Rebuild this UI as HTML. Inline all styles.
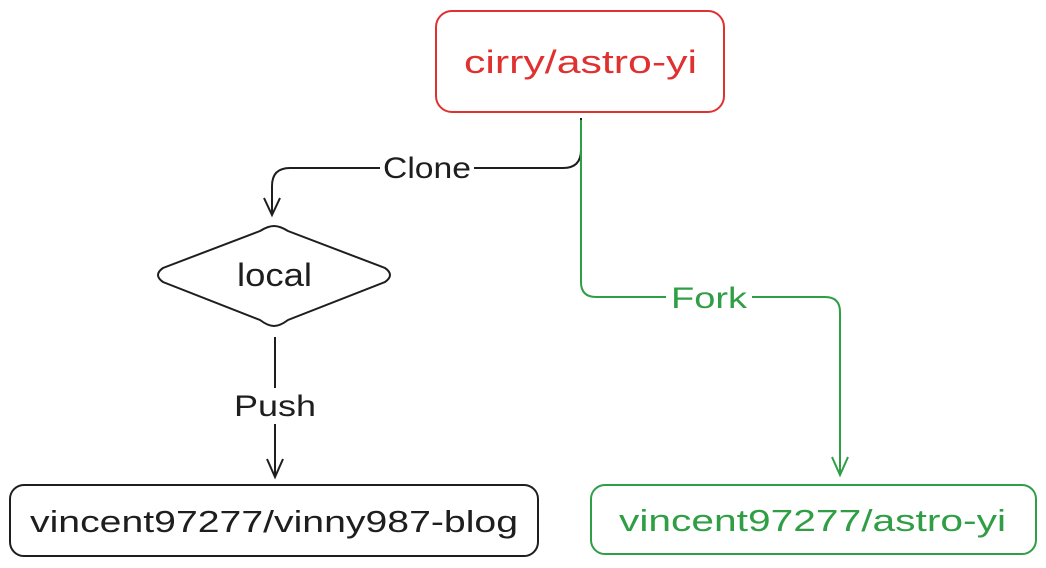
<!DOCTYPE html>
<html><head><meta charset="utf-8"><style>
html,body{margin:0;padding:0;background:#fff;}
svg{display:block;}
text{font-family:"Liberation Sans",sans-serif;}
</style></head><body>
<svg width="1046" height="568" viewBox="0 0 1046 568" xmlns="http://www.w3.org/2000/svg">
<rect width="1046" height="568" fill="#fff"/>
<rect x="436" y="11" width="288" height="101" rx="16" fill="none" stroke="#e03131" stroke-width="2"/>
<text x="464" y="73" font-size="32" fill="#e03131" textLength="233" lengthAdjust="spacingAndGlyphs">cirry/astro-yi</text>
<path d="M581 118 L581 150 Q581 168 563 168 L290 168 Q272 168 272 186 L272 214" fill="none" stroke="#1e1e1e" stroke-width="2"/>
<path d="M264 198 L272 215 L280 198" fill="none" stroke="#1e1e1e" stroke-width="2"/>
<rect x="380" y="150" width="94" height="34" fill="#fff"/>
<text x="383" y="178" font-size="30" fill="#1e1e1e" textLength="88" lengthAdjust="spacingAndGlyphs">Clone</text>
<path d="M274 226 Q280 226 288 231 L385 268 Q395 275 385 282 L288 320 Q280 326 274 326 Q268 326 260 320 L163 282 Q153 275 163 268 L260 231 Q268 226 274 226 Z" fill="none" stroke="#1e1e1e" stroke-width="2"/>
<text x="237" y="286" font-size="32" fill="#1e1e1e" textLength="75" lengthAdjust="spacingAndGlyphs">local</text>
<path d="M275 337 L275 476" fill="none" stroke="#1e1e1e" stroke-width="2"/>
<path d="M267 459 L275 477 L283 459" fill="none" stroke="#1e1e1e" stroke-width="2"/>
<rect x="230" y="388" width="90" height="36" fill="#fff"/>
<text x="234" y="416" font-size="30" fill="#1e1e1e" textLength="82" lengthAdjust="spacingAndGlyphs">Push</text>
<rect x="10" y="485" width="528" height="71" rx="14" fill="none" stroke="#1e1e1e" stroke-width="2"/>
<text x="30" y="532" font-size="31" fill="#1e1e1e" textLength="488" lengthAdjust="spacingAndGlyphs">vincent97277/vinny987-blog</text>
<path d="M581 120 L581 282 Q581 297 596 297 L825 297 Q840 297 840 312 L840 474" fill="none" stroke="#2f9e44" stroke-width="2"/>
<path d="M832 457 L840 475 L848 457" fill="none" stroke="#2f9e44" stroke-width="2"/>
<rect x="666" y="280" width="86" height="34" fill="#fff"/>
<text x="671" y="308" font-size="30" fill="#2f9e44" textLength="76" lengthAdjust="spacingAndGlyphs">Fork</text>
<rect x="591" y="485" width="445" height="69" rx="14" fill="none" stroke="#2f9e44" stroke-width="2"/>
<text x="619" y="531" font-size="31" fill="#2f9e44" textLength="387" lengthAdjust="spacingAndGlyphs">vincent97277/astro-yi</text>
</svg>
</body></html>
